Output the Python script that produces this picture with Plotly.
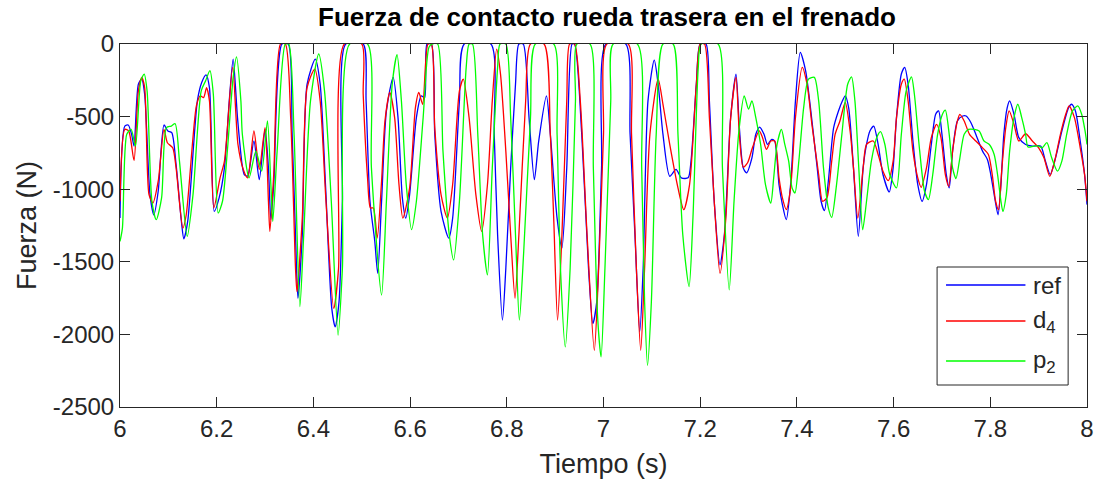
import plotly.graph_objects as go

# Tiempo (s) y fuerza de contacto (N) de cada señal
ref_t = [6.000, 6.010, 6.017, 6.024, 6.029, 6.038, 6.045, 6.051, 6.062, 6.070, 6.079, 6.091, 6.099, 6.107,
         6.116, 6.127, 6.132, 6.140, 6.160, 6.169, 6.178, 6.185, 6.195, 6.205, 6.216, 6.226, 6.234, 6.243,
         6.253, 6.257, 6.264, 6.277, 6.288, 6.300, 6.307, 6.312, 6.318, 6.335, 6.348, 6.356, 6.363, 6.368,
         6.377, 6.387, 6.404, 6.414, 6.425, 6.438, 6.445, 6.453, 6.460, 6.467, 6.503, 6.509, 6.517, 6.527,
         6.533, 6.541, 6.551, 6.565, 6.575, 6.584, 6.591, 6.599, 6.613, 6.623, 6.630, 6.635, 6.644, 6.651,
         6.664, 6.680, 6.688, 6.702, 6.712, 6.767, 6.774, 6.781, 6.791, 6.798, 6.808, 6.818, 6.825, 6.834,
         6.846, 6.857, 6.866, 6.882, 6.890, 6.904, 6.914, 6.924, 6.935, 6.940, 6.955, 6.969, 6.978, 6.986,
         6.996, 7.005, 7.046, 7.055, 7.065, 7.075, 7.082, 7.092, 7.105, 7.113, 7.123, 7.137, 7.150, 7.161,
         7.175, 7.181, 7.192, 7.200, 7.212, 7.219, 7.229, 7.241, 7.250, 7.263, 7.274, 7.281, 7.289, 7.296,
         7.307, 7.315, 7.323, 7.332, 7.339, 7.348, 7.354, 7.363, 7.370, 7.378, 7.387, 7.397, 7.407, 7.418,
         7.428, 7.442, 7.450, 7.457, 7.465, 7.476, 7.486, 7.494, 7.500, 7.507, 7.517, 7.527, 7.537, 7.544,
         7.551, 7.559, 7.568, 7.578, 7.591, 7.599, 7.606, 7.616, 7.623, 7.630, 7.640, 7.650, 7.659, 7.668,
         7.678, 7.687, 7.693, 7.700, 7.709, 7.715, 7.722, 7.732, 7.743, 7.750, 7.760, 7.770, 7.784, 7.794,
         7.801, 7.808, 7.816, 7.822, 7.828, 7.835, 7.840, 7.849, 7.859, 7.873, 7.887, 7.904, 7.914, 7.924,
         7.935, 7.948, 7.962, 7.968, 7.976, 7.986, 7.995, 8.000]
ref_f = [-1199, -565, -558, -622, -703, -277, -242, -346, -1037, -1176, -1014, -558, -599, -611,
         -830, -1222, -1342, -1222, -392, -265, -212, -300, -1153, -1060, -853, -392, -104, -507,
         -841, -899, -910, -668, -934, -588, -853, -1210, -968, 0, 0, -622, -1314, -1752,
         -1314, -277, -104, -277, -968, -1821, -1948, -1775, -1083, 0, 0, -392, -1083, -1360,
         -1579, -1083, -461, -230, -507, -1060, -1199, -1037, -507, -357, -369, 0, 0, -622,
         -1153, -1337, -1199, -392, 0, 0, -622, -1314, -1902, -1544, -853, -277, 0, 0,
         -507, -934, -668, -357, -622, -1199, -1406, -853, 0, 0, -622, -1544, -1925, -1775,
         -853, 0, 0, -622, -1314, -1982, -1544, -392, -111, -277, -622, -911, -864, -922,
         -922, -807, -277, 0, 0, -392, -1083, -1521, -1314, -507, -207, -576, -853, -887,
         -784, -622, -572, -622, -692, -657, -668, -968, -1106, -1210, -968, -392, -58, -184,
         -438, -853, -1083, -1148, -945, -576, -461, -392, -357, -438, -853, -1325, -853, -692,
         -599, -565, -692, -899, -1019, -853, -507, -207, -161, -277, -668, -968, -1083, -968,
         -692, -484, -461, -622, -899, -991, -738, -530, -496, -496, -542, -622, -738, -795,
         -899, -1037, -1176, -968, -622, -438, -392, -484, -645, -692, -703, -703, -807, -899,
         -784, -599, -438, -415, -461, -668, -899, -1106]

d4_t = [6.000, 6.010, 6.018, 6.029, 6.038, 6.045, 6.051, 6.060, 6.068, 6.079, 6.091, 6.098, 6.109, 6.116,
        6.130, 6.137, 6.158, 6.166, 6.173, 6.179, 6.185, 6.194, 6.207, 6.216, 6.233, 6.244, 6.255, 6.264,
        6.277, 6.288, 6.300, 6.307, 6.310, 6.318, 6.332, 6.342, 6.353, 6.363, 6.366, 6.377, 6.387, 6.403,
        6.414, 6.426, 6.442, 6.452, 6.464, 6.500, 6.503, 6.512, 6.518, 6.524, 6.532, 6.541, 6.548, 6.558,
        6.568, 6.577, 6.585, 6.599, 6.611, 6.618, 6.626, 6.637, 6.644, 6.651, 6.664, 6.677, 6.688, 6.702,
        6.710, 6.722, 6.736, 6.748, 6.760, 6.770, 6.779, 6.787, 6.798, 6.808, 6.817, 6.825, 6.839, 6.849,
        6.877, 6.890, 6.897, 6.905, 6.914, 6.924, 6.930, 6.940, 6.952, 6.966, 6.981, 6.990, 7.000, 7.007,
        7.051, 7.058, 7.068, 7.077, 7.085, 7.096, 7.113, 7.123, 7.137, 7.154, 7.166, 7.178, 7.192, 7.200,
        7.209, 7.219, 7.229, 7.241, 7.253, 7.263, 7.274, 7.281, 7.289, 7.298, 7.308, 7.322, 7.329, 7.337,
        7.346, 7.354, 7.363, 7.370, 7.378, 7.387, 7.397, 7.411, 7.421, 7.431, 7.445, 7.453, 7.462, 7.472,
        7.479, 7.489, 7.500, 7.510, 7.517, 7.526, 7.537, 7.544, 7.558, 7.568, 7.578, 7.589, 7.599, 7.606,
        7.616, 7.622, 7.630, 7.640, 7.650, 7.657, 7.668, 7.678, 7.689, 7.698, 7.707, 7.714, 7.722, 7.732,
        7.737, 7.746, 7.757, 7.770, 7.784, 7.796, 7.804, 7.811, 7.817, 7.824, 7.832, 7.839, 7.849, 7.859,
        7.873, 7.887, 7.900, 7.911, 7.923, 7.933, 7.945, 7.956, 7.963, 7.974, 7.986, 7.995, 8.000]
d4_f = [-1083, -588, -599, -802, -323, -230, -300, -1037, -1095, -945, -588, -680, -715, -853,
        -1268, -1176, -426, -357, -369, -300, -392, -1129, -922, -807, -161, -692, -864, -922,
        -599, -864, -576, -1083, -1291, -899, 0, 0, -507, -1544, -1706, -1199, -300, -173,
        -392, -1083, -1821, -1544, 0, 0, -346, -922, -1129, -1129, -1337, -945, -530, -334,
        -507, -968, -1199, -991, -438, -334, -415, 0, 0, -576, -1037, -1199, -968, -323,
        -242, -507, -1037, -1291, -968, -392, -35, -207, -738, -1314, -1752, -1314, -392, 0,
        0, -622, -1199, -1902, -1314, -392, 0, 0, -392, -1314, -2109, -1544, -622, 0,
        0, -622, -1544, -2109, -1544, -622, -242, -415, -692, -991, -1141, -968, -277, 0,
        0, -507, -1083, -1579, -1199, -507, -230, -622, -848, -818, -715, -599, -645, -726,
        -668, -668, -922, -1060, -1141, -991, -507, -161, -277, -553, -899, -1083, -1060, -807,
        -622, -530, -403, -599, -853, -1199, -853, -692, -668, -761, -876, -941, -807, -507,
        -277, -242, -392, -738, -922, -987, -853, -645, -553, -645, -899, -980, -738, -530,
        -484, -530, -622, -668, -715, -761, -899, -1083, -1141, -853, -576, -461, -553, -668,
        -618, -668, -715, -784, -911, -807, -622, -484, -426, -507, -715, -899, -1083]

p2_t = [6.000, 6.005, 6.014, 6.023, 6.032, 6.043, 6.050, 6.056, 6.066, 6.075, 6.086, 6.096, 6.106, 6.114,
        6.123, 6.139, 6.151, 6.168, 6.177, 6.186, 6.193, 6.203, 6.212, 6.222, 6.234, 6.241, 6.250, 6.253,
        6.267, 6.281, 6.293, 6.305, 6.312, 6.316, 6.325, 6.342, 6.349, 6.360, 6.372, 6.380, 6.394, 6.411,
        6.423, 6.437, 6.451, 6.460, 6.475, 6.512, 6.520, 6.541, 6.551, 6.563, 6.573, 6.582, 6.592, 6.603,
        6.613, 6.627, 6.639, 6.646, 6.657, 6.668, 6.681, 6.690, 6.702, 6.716, 6.722, 6.729, 6.740, 6.750,
        6.760, 6.770, 6.781, 6.786, 6.798, 6.808, 6.818, 6.826, 6.835, 6.849, 6.859, 6.897, 6.904, 6.911,
        6.921, 6.931, 6.942, 6.945, 6.972, 6.979, 6.988, 6.995, 7.003, 7.015, 7.020, 7.070, 7.079, 7.085,
        7.091, 7.099, 7.109, 7.123, 7.144, 7.154, 7.164, 7.177, 7.185, 7.196, 7.202, 7.237, 7.246, 7.260,
        7.270, 7.280, 7.291, 7.300, 7.307, 7.315, 7.325, 7.335, 7.346, 7.352, 7.359, 7.368, 7.375, 7.383,
        7.390, 7.396, 7.404, 7.414, 7.424, 7.436, 7.445, 7.455, 7.465, 7.472, 7.482, 7.493, 7.505, 7.513,
        7.520, 7.528, 7.536, 7.544, 7.554, 7.565, 7.573, 7.582, 7.592, 7.606, 7.616, 7.626, 7.637, 7.643,
        7.654, 7.664, 7.672, 7.681, 7.691, 7.701, 7.707, 7.715, 7.722, 7.729, 7.736, 7.746, 7.755, 7.767,
        7.777, 7.787, 7.798, 7.808, 7.815, 7.822, 7.826, 7.833, 7.840, 7.849, 7.857, 7.865, 7.873, 7.878,
        7.890, 7.900, 7.907, 7.917, 7.927, 7.939, 7.948, 7.958, 7.970, 7.981, 7.989, 7.996, 8.000]
p2_f = [-1360, -1268, -622, -588, -703, -254, -207, -323, -1083, -1210, -1060, -576, -565, -549,
        -807, -1325, -1037, -323, -254, -184, -346, -1164, -1083, -738, -230, -88, -392, -622,
        -922, -738, -876, -530, -968, -1222, -738, 0, 0, -622, -1809, -1314, -392, -69,
        -323, -1083, -2005, -1544, 0, 0, -853, -1729, -1083, -277, -74, -392, -968, -1279,
        -1083, -507, -23, 0, 0, -738, -1314, -1487, -1083, -161, 0, 0, -622, -1314,
        -1590, -853, -161, 0, 0, -507, -1314, -1902, -1429, -507, 0, 0, -622, -1544,
        -2086, -1544, -392, 0, 0, -853, -1890, -2155, -1544, -392, 0, 0, -853, -1775,
        -2213, -1775, -622, 0, 0, -622, -1314, -1671, -1199, -161, 0, 0, -853, -1694,
        -1083, -600, -357, -449, -392, -507, -692, -968, -1095, -922, -692, -588, -692, -807,
        -991, -1026, -807, -438, -242, -230, -392, -853, -1129, -1194, -968, -622, -277, -226,
        -392, -853, -1279, -1083, -807, -645, -604, -692, -899, -991, -622, -323, -226, -346,
        -738, -1014, -1072, -899, -622, -484, -456, -622, -853, -927, -807, -622, -588, -588,
        -599, -668, -692, -761, -899, -1083, -1153, -1037, -738, -507, -415, -507, -622, -710,
        -703, -703, -715, -680, -784, -876, -807, -622, -461, -426, -484, -599, -692]

series = [
    ("ref", "ref", ref_t, ref_f, "#0000FF"),
    ("d4", "d<sub>4</sub>", d4_t, d4_f, "#FF0000"),
    ("p2", "p<sub>2</sub>", p2_t, p2_f, "#00FF00"),
]

x_ticks = [6, 6.2, 6.4, 6.6, 6.8, 7, 7.2, 7.4, 7.6, 7.8, 8]
x_tick_text = ["6", "6.2", "6.4", "6.6", "6.8", "7", "7.2", "7.4", "7.6", "7.8", "8"]
y_ticks = [0, -500, -1000, -1500, -2000, -2500]
y_tick_text = ["0", "-500", "-1000", "-1500", "-2000", "-2500"]

W, H = 1104, 484
ML, MR, MT, MB = 120, 10, 44, 77
PW, PH = W - ML - MR, H - MT - MB
AX = "#262626"
FONT = "Liberation Sans, Arial, Helvetica, sans-serif"

fig = go.Figure()
for name, label, t, f, color in series:
    fig.add_trace(go.Scatter(x=t, y=f, mode="lines", name=name,
                             line=dict(color=color, width=1.3, shape="spline", smoothing=0.7),
                             showlegend=False))


def px_x(p):
    return (p - ML) / PW


def px_y(p):
    return (H - MB - p) / PH


# Legend box drawn in paper coordinates
shapes = [dict(type="rect", xref="paper", yref="paper",
               x0=px_x(943), x1=px_x(1075), y0=px_y(385), y1=px_y(267),
               line=dict(color=AX, width=1), fillcolor="white", layer="above")]
annotations = []
row_y = [285, 321, 361]
for (name, label, t, f, color), ry in zip(series, row_y):
    shapes.append(dict(type="line", xref="paper", yref="paper",
                       x0=px_x(952), x1=px_x(1032), y0=px_y(ry), y1=px_y(ry),
                       line=dict(color=color, width=1.3), layer="above"))
    annotations.append(dict(xref="paper", yref="paper", x=px_x(1038), y=px_y(ry),
                            xanchor="left", yanchor="middle", text=label, showarrow=False,
                            font=dict(family=FONT, size=24, color=AX)))

fig.update_layout(
    width=W, height=H,
    margin=dict(l=ML, r=MR, t=MT, b=MB),
    paper_bgcolor="white", plot_bgcolor="white",
    font=dict(family=FONT, size=24, color=AX),
    title=dict(text="<b>Fuerza de contacto rueda trasera en el frenado</b>",
               x=(ML + PW / 2) / W, xanchor="center", y=1 - 17 / H, yanchor="middle",
               font=dict(family=FONT, size=26, color="black")),
    shapes=shapes, annotations=annotations,
)
fig.update_xaxes(range=[6, 8], tickvals=x_ticks, ticktext=x_tick_text,
                 showline=True, linecolor=AX, linewidth=1, mirror="allticks",
                 ticks="inside", ticklen=10, tickcolor=AX, tickwidth=1,
                 showgrid=False, zeroline=False,
                 title=dict(text="Tiempo (s)", font=dict(family=FONT, size=27, color=AX), standoff=13),
                 tickfont=dict(family=FONT, size=24, color=AX))
fig.update_yaxes(range=[-2500, 0], tickvals=y_ticks, ticktext=y_tick_text,
                 showline=True, linecolor=AX, linewidth=1, mirror="allticks",
                 ticks="inside", ticklen=10, tickcolor=AX, tickwidth=1,
                 showgrid=False, zeroline=False,
                 title=dict(text="Fuerza (N)", font=dict(family=FONT, size=27, color=AX), standoff=8),
                 tickfont=dict(family=FONT, size=24, color=AX))

fig.write_html("out.html")
